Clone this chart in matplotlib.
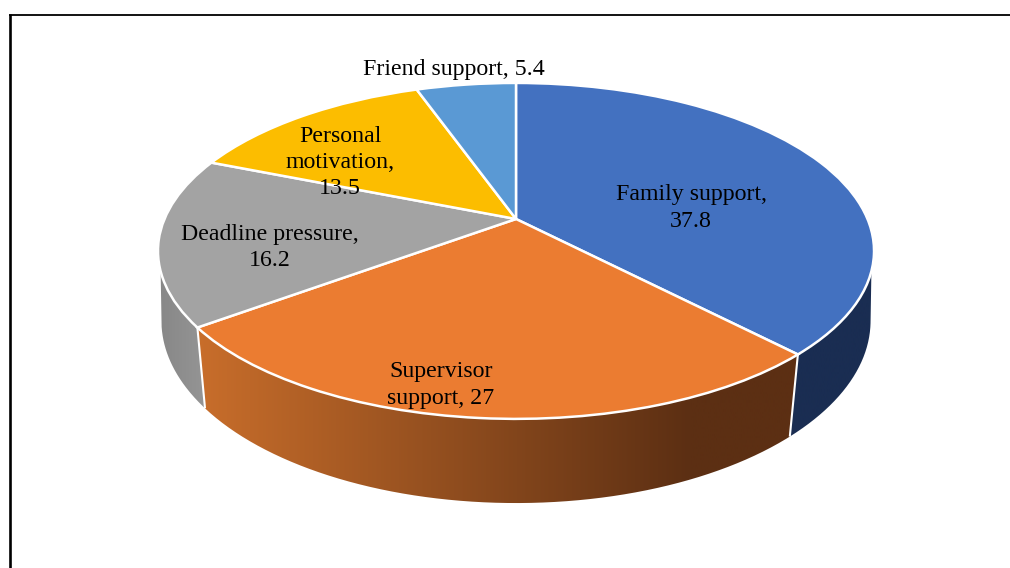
import numpy as np
import matplotlib
matplotlib.use('Agg')
import matplotlib.pyplot as plt
from matplotlib.colors import to_rgb
from matplotlib.patches import PathPatch
from matplotlib.path import Path
from matplotlib.transforms import Transform

# data, clockwise from 12 o'clock
categories = ['Family support', 'Supervisor support', 'Deadline pressure',
              'Personal motivation', 'Friend support']
values = [37.8, 27, 16.2, 13.5, 5.4]
labels = ['Family support,\n37.8', 'Supervisor\nsupport, 27',
          'Deadline pressure,\n16.2', 'Personal\nmotivation,\n13.5',
          'Friend support, 5.4']
top_colors = ['#4371c0', '#eb7c31', '#a3a3a3', '#fcbd00', '#5a99d4']

plt.rcParams['font.family'] = ['Liberation Serif', 'DejaVu Serif']

W, H = 1010, 568
CX, CY = 516, 219


class Tilt(Transform):
    """Perspective view of the unit circle, output in pixel coordinates."""
    input_dims = 2
    output_dims = 2

    def __init__(self, a, b, c, k):
        super().__init__()
        self.a, self.b, self.c, self.k = a, b, c, k

    def transform_non_affine(self, values):
        u, v = values[:, 0], values[:, 1]
        w = 1 + self.k * v
        return np.column_stack([CX + self.a * u / w,
                                CY - (self.b * v + self.c) / w])


top_rim = Tilt(351.5, 161.9, 0, 0.19)
low_rim = Tilt(350, 166, -72.6, 0.16)


def rim_points(rim, t0, t1, n=120):
    t = np.linspace(t0, t1, n)
    return rim.transform(np.column_stack([np.sin(t), np.cos(t)]))


def wall(top_range, low_range, colors, x0, x1):
    # side wall of one slice, a horizontal gradient clipped to its outline
    pts = np.vstack([rim_points(top_rim, *top_range),
                     rim_points(low_rim, *low_range)])
    patch = PathPatch(Path(np.vstack([pts, pts[:1]])), fc='none', ec='none')
    ax.add_patch(patch)
    xs = np.linspace(pts[:, 0].min(), pts[:, 0].max(), 512)
    c0, c1 = to_rgb(colors[0]), to_rgb(colors[1])
    grad = np.column_stack([np.interp(xs, [x0, x1], [c0[i], c1[i]]) for i in range(3)])
    im = ax.imshow(grad[None, :, :], extent=[xs[0], xs[-1], H, 0], aspect='auto',
                   zorder=1, interpolation='bilinear')
    im.set_clip_path(patch)


fig = plt.figure(figsize=(W / 100, H / 100), dpi=100)
ax = fig.add_axes([0, 0, 1, 1])

wedges, _ = ax.pie(values, colors=top_colors, startangle=90, counterclock=False,
                   wedgeprops=dict(edgecolor='white', linewidth=1.8, zorder=3))
for w in wedges:
    w.set_transform(top_rim + ax.transData)

edges = np.cumsum([0] + values) / sum(values) * 2 * np.pi
e1, e2, e3 = edges[1:4]

# the outer sides run straight from the top rim to the bottom rim
wall((np.radians(95), e1), (e1, np.radians(100)), ['#1a2d52', '#1a2d52'], 780, 880)
wall((e1, e2), (e2, e1), ['#c96e2b', '#5c2f13'], 195, 690)
wall((e2, np.radians(265)), (np.radians(260), e2), ['#868686', '#959595'], 155, 205)

# white seams between the walls
for t in (e1, e2):
    a = rim_points(top_rim, t, t, 1)[0]
    b = rim_points(low_rim, t, t, 1)[0]
    ax.plot([a[0], b[0]], [a[1], b[1]], color='white', lw=1.5, zorder=2,
            solid_capstyle='butt')

label_pos = [(691, 208), (441, 385), (270, 247.5), (340, 162.5), (454, 69)]
for text, (x, y) in zip(labels, label_pos):
    ax.text(x, y, text, ha='center', va='center', fontsize=17.2, color='black',
            linespacing=1.32, zorder=5)

# outer frame, cut off by the image edge
ax.plot([9.5, 9.5], [H, 14], color='black', lw=1.9, zorder=6, solid_capstyle='butt')
ax.plot([8.5, W], [15, 15], color='black', lw=1.3, zorder=6, solid_capstyle='butt')

ax.set_aspect('auto')
ax.set_xlim(0, W)
ax.set_ylim(H, 0)
ax.axis('off')

fig.savefig('out.png', dpi=100)
